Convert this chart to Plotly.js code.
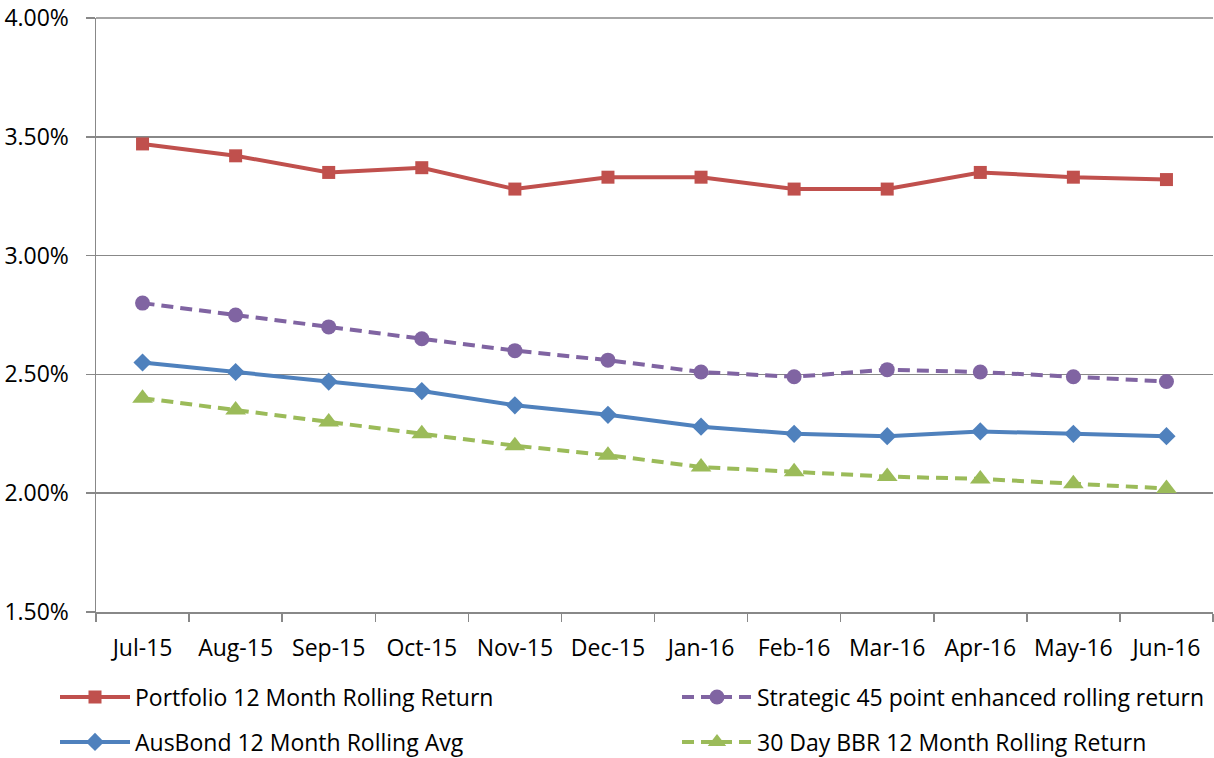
<!DOCTYPE html>
<html>
<head>
<meta charset="utf-8">
<script src="https://cdn.plot.ly/plotly-3.0.1.min.js"></script>
<style>html,body{margin:0;padding:0;background:#fff;}#chart{width:1214px;height:758px;}</style>
</head>
<body>
<div id="chart"></div>
<script>
const months = ["Jul-15","Aug-15","Sep-15","Oct-15","Nov-15","Dec-15","Jan-16","Feb-16","Mar-16","Apr-16","May-16","Jun-16"];
const portfolio = [3.47,3.42,3.35,3.37,3.28,3.33,3.33,3.28,3.28,3.35,3.33,3.32];
const strategic = [2.80,2.75,2.70,2.65,2.60,2.56,2.51,2.49,2.52,2.51,2.49,2.47];
const ausbond = [2.55,2.51,2.47,2.43,2.37,2.33,2.28,2.25,2.24,2.26,2.25,2.24];
const bbr = [2.40,2.35,2.30,2.25,2.20,2.16,2.11,2.09,2.07,2.06,2.04,2.02];
const names = ["Portfolio 12 Month Rolling Return","Strategic 45 point enhanced rolling return","AusBond 12 Month Rolling Avg","30 Day BBR 12 Month Rolling Return"];

const font = "Open Sans, Liberation Sans, sans-serif";
const fs = 23;
const traces = [
  {x: months, y: portfolio, name: names[0], type: "scatter", mode: "lines+markers", legend: "legend",
   line: {color: "#C0504D", width: 4}, marker: {symbol: "square", size: 13, color: "#C0504D"}},
  {x: months, y: strategic, name: names[1], type: "scatter", mode: "lines+markers", legend: "legend2",
   line: {color: "#8064A2", width: 4, dash: "12px,7px"}, marker: {symbol: "circle", size: 15, color: "#8064A2"}},
  {x: months, y: ausbond, name: names[2], type: "scatter", mode: "lines+markers", legend: "legend3",
   line: {color: "#4F81BD", width: 4}, marker: {symbol: "diamond", size: 14, color: "#4F81BD"}},
  {x: months, y: bbr, name: names[3], type: "scatter", mode: "lines+markers", legend: "legend4",
   line: {color: "#9BBB59", width: 4, dash: "12px,7px"}, marker: {symbol: "triangle-up", size: 18, color: "#9BBB59"}}
];

const legendCommon = {orientation: "h", xref: "container", yref: "container", xanchor: "left", yanchor: "middle",
  itemwidth: 70, font: {family: font, size: fs, color: "#000"},
  bgcolor: "rgba(0,0,0,0)", traceorder: "normal"};

const layout = {
  width: 1214, height: 758,
  margin: {l: 96, r: 1, t: 18, b: 146, autoexpand: false},
  paper_bgcolor: "#fff", plot_bgcolor: "#fff",
  font: {family: font, size: fs, color: "#000"},
  showlegend: true,
  xaxis: {type: "category", range: [-0.5, 11.5], showgrid: false, showline: true, linecolor: "#888", linewidth: 1.5,
    ticks: "outside", tickson: "boundaries", ticklen: 8, tickcolor: "#888", tickwidth: 1.5,
    ticklabelstandoff: 15, tickfont: {family: font, size: fs, color: "#000"}, fixedrange: true},
  yaxis: {range: [1.5, 4.0], dtick: 0.5, tick0: 1.5, tickformat: ".2f", ticksuffix: "%",
    showgrid: true, gridcolor: "#888", gridwidth: 1.5, showline: true, linecolor: "#888", linewidth: 1.5,
    ticks: "outside", ticklen: 9, tickcolor: "#888", tickwidth: 1.5, zeroline: false,
    ticklabelstandoff: 12, tickfont: {family: font, size: fs, color: "#000"}, fixedrange: true},
  legend: Object.assign({}, legendCommon, {x: 55/1214, y: 1 - 697/758}),
  legend2: Object.assign({}, legendCommon, {x: 677/1214, y: 1 - 697/758}),
  legend3: Object.assign({}, legendCommon, {x: 55/1214, y: 1 - 742/758}),
  legend4: Object.assign({}, legendCommon, {x: 677/1214, y: 1 - 742/758}),
  shapes: [{type: "line", xref: "paper", yref: "paper", x0: 0, x1: 1, y0: 1, y1: 1, line: {color: "#888", width: 1.5}}]
};

Plotly.newPlot("chart", traces, layout, {displayModeBar: false, staticPlot: true});
</script>
</body>
</html>
